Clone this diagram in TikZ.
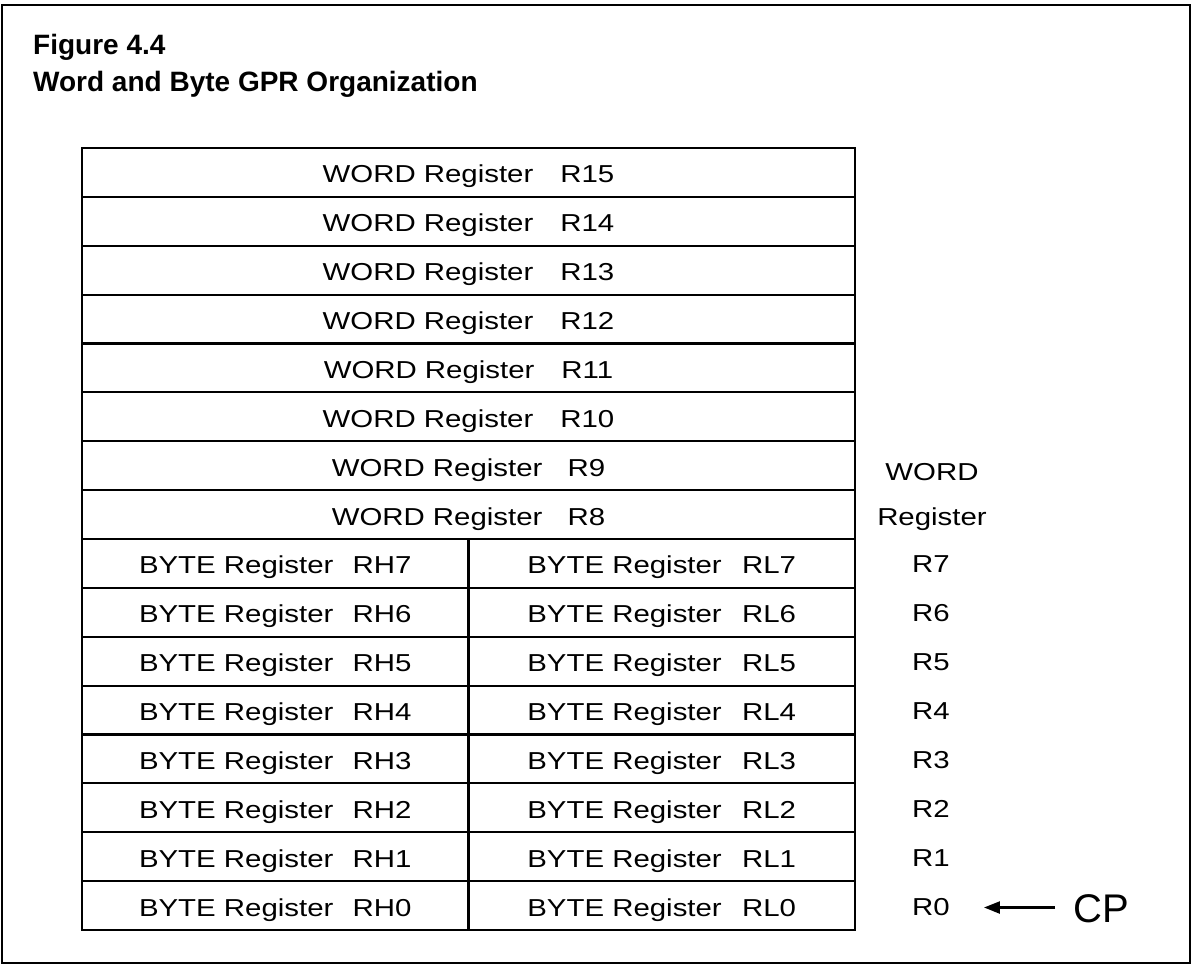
\documentclass[tikz,border=0pt]{standalone}
\usepackage{fontspec}
\usepackage{graphicx}
\setmainfont{Liberation Sans}
\usetikzlibrary{arrows.meta}
\newcommand\stx[1]{\scalebox{1.2}[1]{#1}}
\begin{document}
\begin{tikzpicture}[x=1pt,y=-1pt,
  tfont/.style={font=\fontsize{24.5}{28}\selectfont},
  cell/.style={draw, line width=2.2pt, inner sep=0pt, minimum height=48.875pt,
    text height=21pt, text depth=0pt, tfont},
  wcell/.style={cell, minimum width=773pt},
  bcell/.style={cell, minimum width=386.5pt},
  side/.style={inner sep=0pt, text height=19pt, text depth=0pt, tfont},
  title/.style={anchor=base west, inner sep=0pt, font=\bfseries\fontsize{28}{32}\selectfont},
  ]
\useasboundingbox (0,0) rectangle (1192,974);
\draw[line width=2.5pt] (2,5) rectangle (1190,963);
\node[title] (fig) at (33,55) {Figure 4.4};
\node[title] (ttl) at (33,92) {Word and Byte GPR Organization};
% word registers
\foreach \n in {15,...,10}{
  \pgfmathsetmacro\yy{148+48.875*(15-\n+0.5)}
  \node[wcell] (w\n) at (468.5,\yy) {\stx{WORD Register\hspace{22.5pt}R\n}};
}
\foreach \n in {9,8}{
  \pgfmathsetmacro\yy{148+48.875*(15-\n+0.5)}
  \node[wcell] (w\n) at (468.5,\yy) {\stx{WORD Register\hspace{21pt}R\n}};
}
% byte registers
\foreach \n in {7,...,0}{
  \pgfmathsetmacro\yy{148+48.875*(15-\n+0.5)}
  \node[bcell] (rh\n) at (275.25,\yy) {\stx{BYTE Register\hspace{16pt}RH\n}};
  \node[bcell] (rl\n) at (661.75,\yy) {\stx{BYTE Register\hspace{17pt}RL\n}};
  \node[side, anchor=west] (r\n) at (912,\yy) {\stx{R\n}};
}
\node[tfont, inner sep=0pt, anchor=base] (sw) at (932,480) {\stx{WORD}};
\node[tfont, inner sep=0pt, anchor=base] (sr) at (932,525) {\stx{Register}};
% CP pointer
\node[inner sep=0pt, anchor=base west, text height=29pt, text depth=0pt,
  font=\fontsize{40}{44}\selectfont] (cp) at (1073,922) {CP};
\draw[line width=2.4pt, -{Triangle[length=16pt,width=12pt]},
  shorten <=18pt, shorten >=34pt] (cp.west) -- (r0.east |- cp.west);
\end{tikzpicture}
\end{document}
